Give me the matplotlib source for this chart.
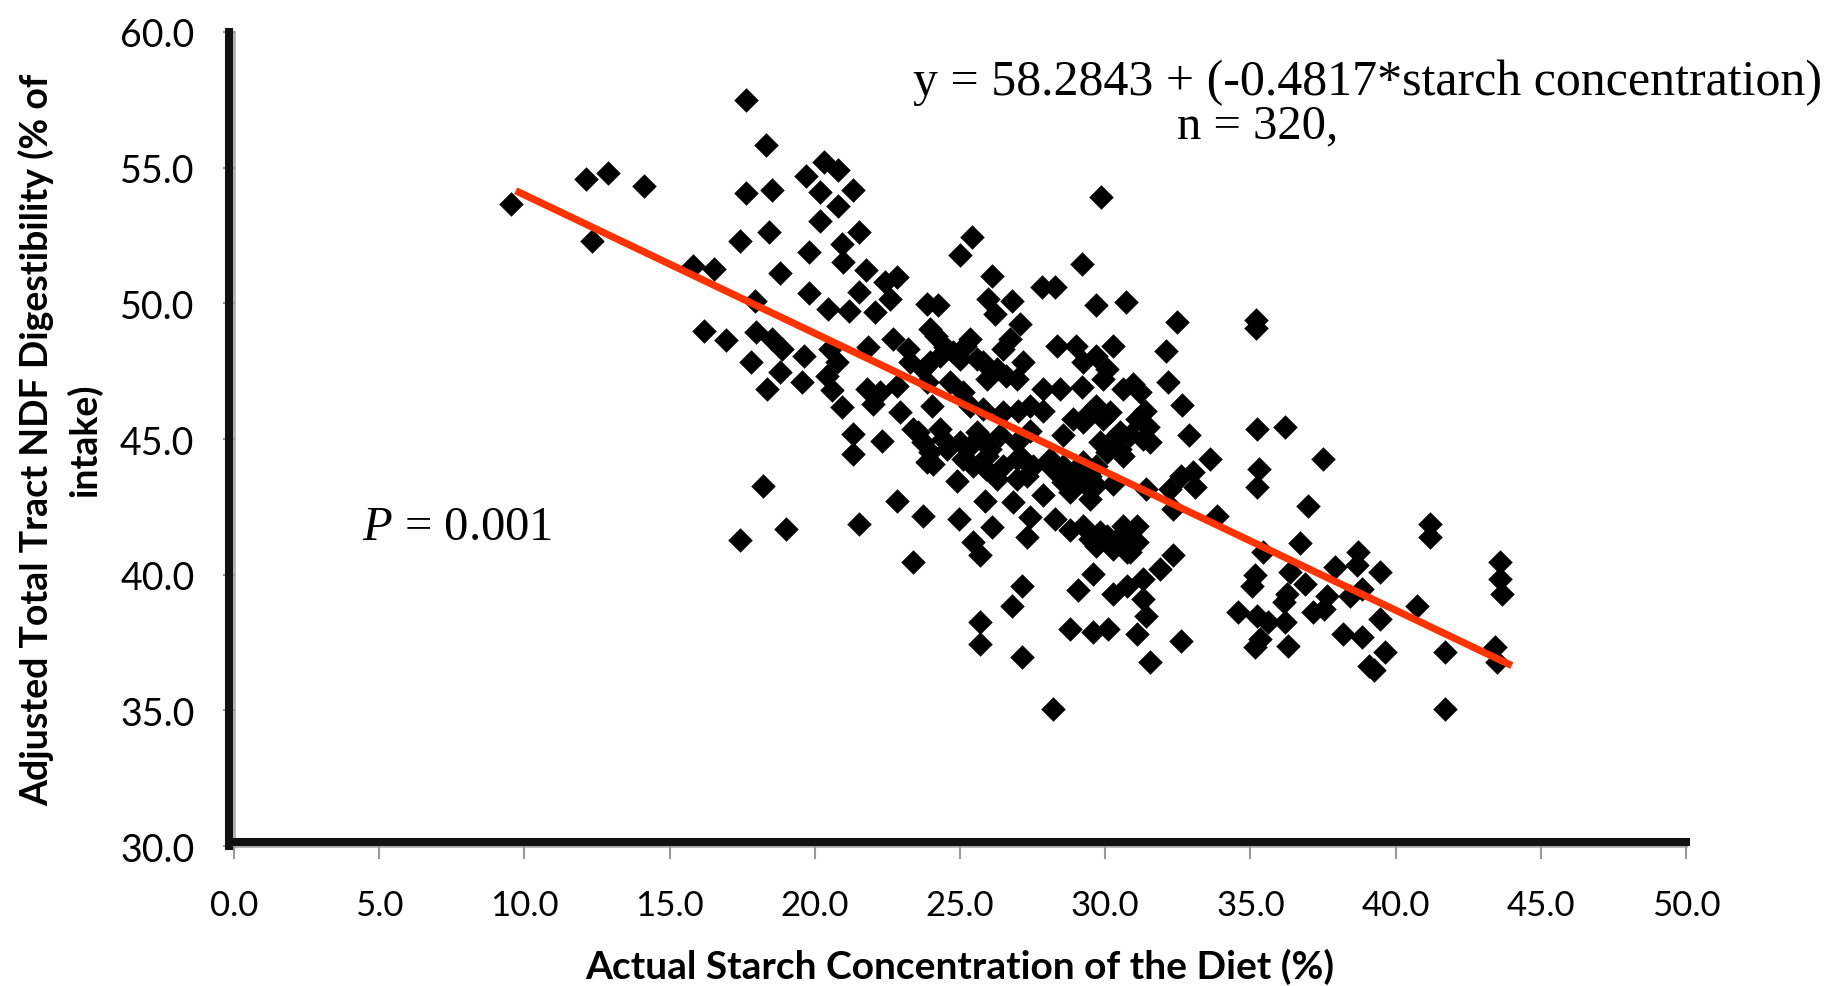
import matplotlib
matplotlib.use("Agg")
import matplotlib.pyplot as plt
import numpy as np

plt.rcParams["font.family"] = ["Lato", "DejaVu Sans"]
plt.rcParams["mathtext.fontset"] = "custom"
plt.rcParams["mathtext.rm"] = "Liberation Serif"
plt.rcParams["mathtext.it"] = "Liberation Serif:italic"

# starch (% of DM) and adjusted NDF digestibility (% of intake)
starch = [
    9.54, 12.12, 12.87, 14.12, 12.32, 17.63, 18.32, 17.62, 18.54, 19.70, 20.3, 20.8, 20.18, 20.18,
    17.42, 18.43, 19.81, 15.82, 16.53, 18.80, 19.81, 17.94, 20.45, 16.18, 16.94, 17.97, 18.51, 18.86,
    19.61, 17.79, 18.80, 18.34, 19.55, 20.41, 20.6,
    21.32, 20.81, 21.53, 20.92, 20.98, 21.76, 22.41, 22.82, 21.53, 22.59, 21.19, 22.07, 23.85, 24.25,
    25.40, 25.00, 29.87, 26.09, 29.19, 27.81, 28.27, 25.97, 26.78, 26.20, 27.06, 29.70, 30.71, 32.46,
    20.52, 20.75, 21.84, 22.70, 23.22, 24.19, 24.48, 25.17, 25.34, 24.99, 24.31, 26.72, 26.49, 28.33,
    29.01, 29.70, 30.05, 30.28, 32.11, 25.80, 25.92, 26.60, 26.95, 23.73, 23.85, 21.78, 22.24, 27.87,
    28.44, 29.19, 30.62, 30.97, 32.17, 25.11,
    35.2, 35.2, 18.20, 19.01, 17.42,
    20.92, 22.01, 22.93, 24.02, 25.80, 27.00, 27.87, 29.70, 30.16, 31.37, 32.65, 21.32, 22.30, 21.32,
    23.56, 24.42, 23.96, 24.08, 25.34, 25.11, 25.92, 25.80, 26.37, 26.49, 27.18, 27.29, 26.26, 27.41,
    26.95, 28.56, 29.24, 28.90, 28.21, 28.56, 29.24, 29.47, 29.70, 30.28, 30.05, 30.62, 30.85, 31.54,
    31.48, 30.28, 31.42, 32.23, 32.34, 32.6, 24.88, 22.82, 21.53, 23.71, 24.98, 25.86, 26.09, 26.83,
    27.41, 27.29, 27.87, 28.27, 28.78, 29.47, 30.05, 30.62, 30.85, 31.08, 30.74, 25.46, 25.69, 23.39,
    29.59, 29.07, 27.12, 26.78, 30.28, 30.74, 31.31, 31.88, 32.34, 31.31, 31.42, 25.69, 25.69, 28.78,
    29.59, 30.10, 31.08, 32.6, 27.12, 31.54, 28.21,
    32.87, 35.22, 36.20, 33.61, 33.04, 33.10, 35.28, 35.22, 37.49, 37.00, 33.84, 41.19, 41.19, 43.60,
    43.60, 43.66, 36.71, 35.45, 38.72, 38.66, 37.92, 39.47, 35.16, 35.05, 36.37, 36.88, 36.25, 36.14,
    37.63, 37.52, 37.17, 38.43, 38.84, 34.59, 35.22, 35.62, 36.20, 35.33, 35.16, 36.31, 39.47, 40.73,
    38.20, 38.84, 39.64, 39.24, 39.07, 41.71, 43.43, 43.48, 41.71,
    25.00, 25.57, 26.03, 25.46, 25.91, 28.10, 28.55, 29.01, 29.47, 28.78, 29.70, 29.24,
    29.24, 29.82, 30.39, 31.08, 30.28, 30.85, 29.70, 29.47, 29.93, 30.51, 31.08, 31.31, 30.51, 29.82,
    23.39, 23.73, 24.31, 24.54, 23.85, 25.34, 26.49, 27.41, 26.95, 27.52, 26.95,
    23.96, 24.77, 23.96, 24.65, 25.57, 26.26, 27.18, 23.27, 22.82, 29.24, 29.93, 31.19,
]
ndf_dig = [
    53.66, 54.59, 54.79, 54.34, 52.31, 57.50, 55.84, 54.07, 54.16, 54.71, 55.2, 54.9, 54.09, 53.05,
    52.28, 52.62, 51.88, 51.37, 51.27, 51.12, 50.38, 50.10, 49.79, 48.99, 48.66, 48.93, 48.69, 48.32,
    48.07, 47.83, 47.46, 46.85, 47.09, 47.34, 46.8,
    54.19, 53.60, 52.64, 52.19, 51.51, 51.21, 50.78, 50.96, 50.43, 50.16, 49.70, 49.67, 49.98, 49.94,
    52.44, 51.78, 53.93, 51.02, 51.45, 50.59, 50.59, 50.16, 50.10, 49.61, 49.24, 49.92, 50.04, 49.30,
    48.32, 47.83, 48.38, 48.69, 48.32, 48.81, 48.38, 48.44, 48.69, 47.95, 48.07, 48.69, 48.32, 48.44,
    48.44, 48.07, 47.58, 48.44, 48.26, 47.83, 47.21, 47.34, 47.21, 47.58, 47.09, 46.85, 46.72, 46.85,
    46.85, 46.91, 46.85, 47.03, 47.09, 46.72,
    49.4, 49.1, 43.25, 41.69, 41.26,
    46.17, 46.30, 45.99, 46.23, 46.11, 46.05, 46.05, 46.23, 45.99, 46.05, 46.25, 45.19, 44.94, 44.45,
    45.25, 45.01, 44.51, 44.08, 44.76, 44.27, 44.39, 45.01, 45.13, 44.02, 44.27, 43.65, 43.53, 45.31,
    44.88, 45.13, 45.62, 45.74, 43.90, 43.41, 43.41, 42.79, 43.29, 45.01, 44.51, 44.39, 45.13, 44.88,
    45.44, 43.35, 43.16, 43.16, 42.43, 43.65, 43.47, 42.73, 41.87, 42.15, 42.06, 42.73, 41.75, 42.67,
    42.12, 41.38, 42.92, 42.06, 41.63, 41.32, 41.44, 41.81, 41.32, 41.81, 40.83, 41.20, 40.71, 40.46,
    40.03, 39.42, 39.60, 38.86, 39.29, 39.60, 39.85, 40.21, 40.71, 39.11, 38.49, 38.25, 37.45, 38.00,
    37.88, 38.00, 37.82, 37.57, 36.96, 36.77, 35.05,
    45.13, 45.37, 45.44, 44.27, 43.78, 43.22, 43.90, 43.22, 44.27, 42.52, 42.18, 41.87, 41.38, 40.46,
    39.85, 39.29, 41.17, 40.83, 40.83, 40.34, 40.28, 40.09, 39.97, 39.60, 40.09, 39.66, 39.29, 38.99,
    39.23, 38.74, 38.62, 39.23, 39.48, 38.62, 38.49, 38.25, 38.25, 37.63, 37.33, 37.39, 38.37, 38.86,
    37.82, 37.70, 37.14, 36.47, 36.65, 37.14, 37.33, 36.77, 35.05,
    44.88, 45.25, 44.64, 44.02, 43.90, 44.27, 44.02, 43.78, 43.65, 43.04, 44.02, 44.15,
    41.81, 41.57, 41.32, 41.20, 40.95, 40.83, 41.07, 45.99, 45.74, 45.25, 45.74, 45.01, 44.64, 44.88,
    45.37, 44.88, 45.37, 44.64, 44.15, 46.23, 45.99, 46.23, 44.27, 44.02, 43.53,
    49.06, 48.20, 47.83, 47.09, 47.95, 47.58, 47.83, 47.83, 46.97, 47.83, 47.21, 46.72,
]

# fitted line as drawn in the figure
fit_x = [9.7, 44.0]
fit_y = [54.15, 36.65]

eq_text = "y = 58.2843 + (-0.4817*starch concentration)"
n_text = "n = 320,"
p_text = "$\\mathit{P}$ = 0.001"
x_ticks = np.arange(0, 50.1, 5)
y_ticks = np.arange(30, 60.1, 5)

fig = plt.figure(figsize=(18.3, 9.87), dpi=100)
ax = fig.add_axes([0.1279, 0.1418, 0.7934, 0.8248])

ax.scatter(starch, ndf_dig, marker="D", s=12.5 ** 2, color="black", linewidths=0, zorder=3)
ax.plot(fit_x, fit_y, color="#ff3300", lw=5.2, solid_capstyle="butt", zorder=4)

ax.set_xlim(0, 50)
ax.set_ylim(30, 60)
ax.set_xticks(x_ticks)
ax.set_yticks(y_ticks)
ax.set_xticklabels([f"{v:.1f}" for v in x_ticks])
ax.set_yticklabels([f"{v:.1f}" for v in y_ticks])

for s in ["top", "right"]:
    ax.spines[s].set_visible(False)
for s in ["left", "bottom"]:
    ax.spines[s].set_color("#111111")
    ax.spines[s].set_linewidth(5.8)
ax.spines["left"].set_position(("outward", 4))
ax.spines["bottom"].set_position(("outward", -3))
ax.axhline(30, color="#b0b0b0", lw=2, clip_on=False, zorder=1)
ax.axvline(0, color="#b0b0b0", lw=2, clip_on=False, zorder=1)

ax.tick_params(axis="x", direction="out", length=12, width=1.5, color="#999999",
               labelsize=25, pad=22)
ax.tick_params(axis="y", direction="inout", length=9, width=1.5, color="#999999",
               labelsize=27, pad=20)

ax.set_xlabel("Actual Starch Concentration of the Diet (%)", fontsize=28, fontweight="bold")
ax.xaxis.set_label_coords(0.5, -0.125)
ax.set_ylabel("Adjusted Total Tract NDF Digestibility (% of\nintake)", fontsize=27,
              fontweight="bold", va="center", linespacing=1.4)
ax.yaxis.set_label_coords(-0.1198, 0.5)

ax.text(0.4676, 0.9238, eq_text, transform=ax.transAxes, fontsize=36,
        family="Liberation Serif", va="baseline", ha="left")
ax.text(0.6494, 0.8698, n_text, transform=ax.transAxes, fontsize=35,
        family="Liberation Serif", va="baseline", ha="left")
ax.text(0.0882, 0.3771, p_text, transform=ax.transAxes, fontsize=35,
        family="Liberation Serif", va="baseline", ha="left")

fig.savefig("out.png", dpi=100)
